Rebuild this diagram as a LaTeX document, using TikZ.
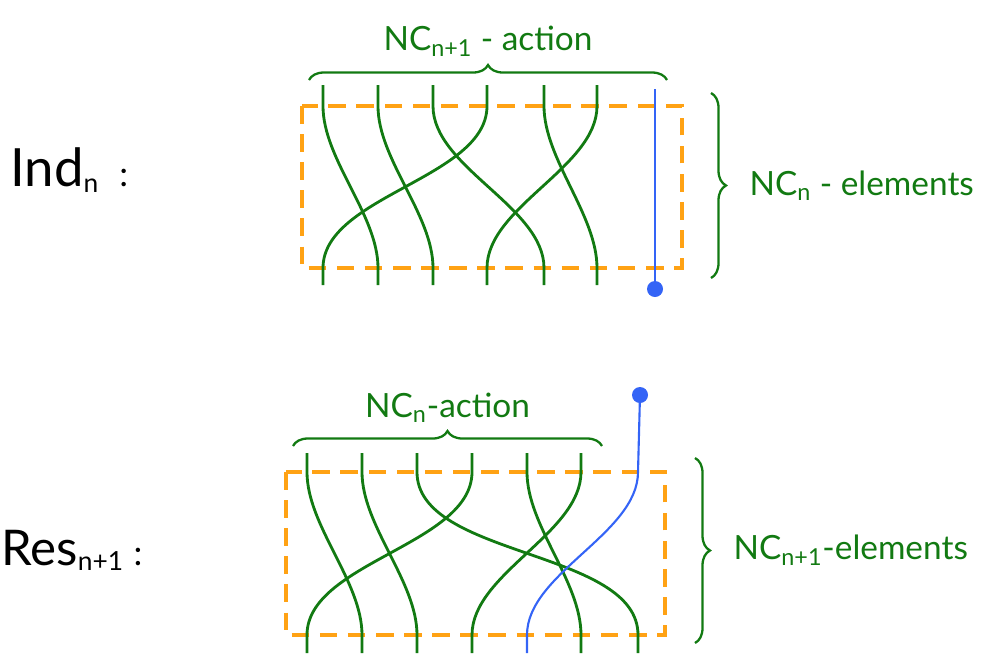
\documentclass[tikz,border=0pt]{standalone}
\usepackage{fontspec}
\setmainfont{Lato}
\usetikzlibrary{decorations.pathreplacing}
\definecolor{strandgreen}{RGB}{18,122,18}
\definecolor{strandblue}{RGB}{52,100,246}
\definecolor{boxorange}{RGB}{255,162,20}
\newcommand{\smallsub}[1]{\raisebox{-3pt}{\fontsize{15}{15}\selectfont #1}}

\begin{document}
\begin{tikzpicture}[x=0.02cm,y=-0.02cm,
  strand/.style={strandgreen,line width=1.6pt},
  bluestrand/.style={strandblue,line width=1.2pt},
  dashbox/.style={boxorange,line width=1.9pt,dash pattern=on 10pt off 6pt},
  brc/.style={strandgreen,line width=1.3pt,decorate,decoration={brace,amplitude=0.3cm}},
  lbl/.style={text=strandgreen,font=\fontsize{19}{22}\selectfont,inner sep=0pt}]
  \useasboundingbox (0,0) rectangle (983,653);
  % Ind_n
  \node[anchor=west,font=\fontsize{30}{34}\selectfont,inner sep=0pt] (ind) at (10,170) {Ind\smallsub{n}\hspace{12pt}{\fontsize{20}{20}\selectfont :}};
  \coordinate (Inw) at (302,106); \coordinate (Ise) at (682,268);
  \draw[dashbox] (Inw) rectangle (Ise);
  \foreach \i/\x in {1/323,2/378,3/433,4/487,5/544,6/597} {
    \coordinate (It\i) at (\x,85); \coordinate (Ib\i) at (\x,285);}
  \foreach \a/\b in {1/2,2/3,3/5,4/1,5/6,6/4}
    \draw[strand] (It\a) -- (It\a |- Inw) to[out=-90,in=90,looseness=0.8] (Ib\b |- Ise) -- (Ib\b);
  \coordinate (Iu) at (655,89); \coordinate (Id) at (655,289);
  \draw[bluestrand] (Iu) -- (Id);
  \fill[strandblue] (Id) circle (8);
  \coordinate (Ial) at (309,80); \coordinate (Iar) at (667,80);
  \draw[brc] (Ial) -- (Iar) node[midway,above=0.45cm,lbl] (indact) {NC\textsubscript{n+1} - action};
  \coordinate (Iet) at (711,93); \coordinate (Ieb) at (711,278);
  \draw[brc] (Iet) -- (Ieb) node[midway,right=0.75cm,lbl] (indel) {NC\textsubscript{n} - elements};
  % Res_{n+1}
  \node[anchor=west,font=\fontsize{28}{32}\selectfont,inner sep=0pt] (res) at (1,550) {Res\smallsub{n+1}\hspace{6pt}{\fontsize{20}{20}\selectfont :}};
  \coordinate (Rnw) at (286,472); \coordinate (Rse) at (665,635);
  \draw[dashbox] (Rnw) rectangle (Rse);
  \foreach \i/\x in {1/307,2/362,3/417,4/472,5/527,6/581,7/638} {
    \coordinate (Rt\i) at (\x,453); \coordinate (Rb\i) at (\x,653);}
  \foreach \a/\b in {1/2,2/3,3/7,4/1,5/6,6/4}
    \draw[strand] (Rt\a) -- (Rt\a |- Rnw) to[out=-90,in=90,looseness=0.8] (Rb\b |- Rse) -- (Rb\b);
  \coordinate (Ru) at (640,395);
  \draw[bluestrand] (Ru) -- (Rt7 |- Rnw) to[out=-90,in=90,looseness=0.8] (Rb5 |- Rse) -- (Rb5);
  \fill[strandblue] (Ru) circle (8);
  \coordinate (Ral) at (293,446); \coordinate (Rar) at (602,446);
  \draw[brc] (Ral) -- (Rar) node[midway,above=0.45cm,lbl] (resact) {NC\textsubscript{n}-action};
  \coordinate (Ret) at (695,458); \coordinate (Reb) at (695,643);
  \draw[brc] (Ret) -- (Reb) node[midway,right=0.75cm,lbl] (resel) {NC\textsubscript{n+1}-elements};
\end{tikzpicture}
\end{document}
